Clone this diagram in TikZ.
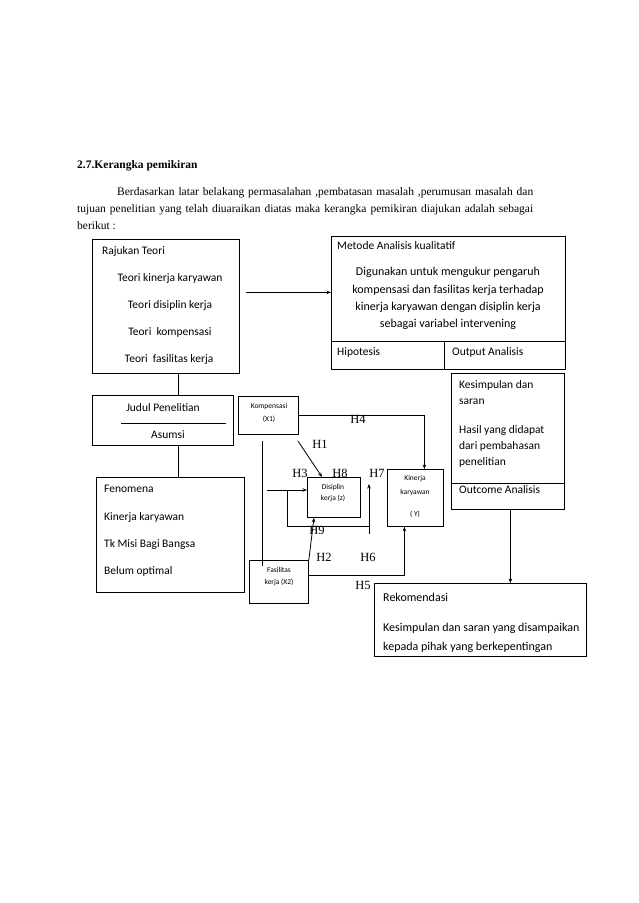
\documentclass[tikz,border=0pt]{standalone}
\usepackage{fontspec}
\setmainfont{Liberation Serif}
\newfontfamily\calfont{Carlito}
\usetikzlibrary{arrows.meta}
\begin{document}
\begin{tikzpicture}[x=1pt,y=-1pt,
  box/.style={draw, line width=0.8pt, anchor=north west, inner sep=0pt},
  ln/.style={line width=0.8pt},
  arr/.style={line width=0.8pt, -{Stealth[length=4.5pt,width=3.5pt]}},
  bt/.style={font=\calfont\fontsize{11.5}{13}\selectfont, inner sep=0pt},
  btl/.style={bt, anchor=west},
  bw/.style={font=\calfont\fontsize{12}{13}\selectfont, inner sep=0pt},
  bwl/.style={bw, anchor=west},
  st/.style={font=\calfont\fontsize{7.5}{9}\selectfont, inner sep=0pt},
  hl/.style={font=\fontsize{12.5}{14}\selectfont, inner sep=0pt},
  pt/.style={font=\fontsize{11.5}{13}\selectfont, inner sep=0pt, anchor=west}]
\fill[white] (0,0) rectangle (638,903);
\useasboundingbox (0,0) rectangle (638,903);

% heading and paragraph
\node[pt] (head) at (77,166) {\bfseries 2.7.Kerangka pemikiran};
\node[pt] (p1) at (117,193) {\makebox[416pt][s]{Berdasarkan latar belakang permasalahan ,pembatasan masalah ,perumusan masalah dan}};
\node[pt] (p2) at (77,210) {\makebox[456pt][s]{tujuan penelitian yang telah diuaraikan diatas maka kerangka pemikiran diajukan adalah sebagai}};
\node[pt] (p3) at (77,226) {berikut :};

% boxes
\node[box, minimum width=147pt, minimum height=134pt] (raj) at (92,239) {};
\node[box, minimum width=234pt, minimum height=133pt] (met) at (331,236) {};
\node[box, minimum width=141pt, minimum height=50pt] (jud) at (92,395) {};
\node[box, minimum width=148pt, minimum height=115pt] (fen) at (96,477) {};
\node[box, minimum width=60pt, minimum height=38pt] (komp) at (238,396) {};
\node[box, minimum width=53pt, minimum height=40pt] (dis) at (307,477) {};
\node[box, minimum width=56pt, minimum height=57pt] (kin) at (387,469) {};
\node[box, minimum width=59pt, minimum height=43pt] (fas) at (249,560) {};
\node[box, minimum width=113pt, minimum height=136pt] (kes) at (451,373) {};
\node[box, minimum width=212pt, minimum height=73pt] (rek) at (374,583) {};

% dividers
\coordinate (mdiv) at (444,341);
\draw[ln] (met.west |- mdiv) -- (met.east |- mdiv);
\draw[ln] (mdiv) -- (mdiv |- met.south);
\coordinate (kdiv) at (451,483);
\draw[ln] (kes.west |- kdiv) -- (kes.east |- kdiv);
\draw[ln] (121,423) -- (226,423);

% texts: Rajukan Teori
\node[btl] (t1) at (102,251) {Rajukan Teori};
\node[bt] (t2) at (170,278) {Teori kinerja karyawan};
\node[bt] (t3) at (170,305) {Teori disiplin kerja};
\node[bt] (t4) at (170,332) {Teori\ \ kompensasi};
\node[bt] (t5) at (169,359) {Teori\ \ fasilitas kerja};

% Metode
\node[btl] (m1) at (337,246) {Metode Analisis kualitatif};
\node[bw] (m2) at (448,272) {Digunakan untuk mengukur pengaruh};
\node[bw] (m3) at (448,290) {kompensasi dan fasilitas kerja terhadap};
\node[bw] (m4) at (448,307) {kinerja karyawan dengan disiplin kerja};
\node[bw] (m5) at (448,324) {sebagai variabel intervening};
\node[btl] (m6) at (337,352) {Hipotesis};
\node[btl] (m7) at (452,352) {Output Analisis};

% Judul
\node[bt] (j1) at (163,408) {Judul Penelitian};
\node[bt] (j2) at (168,435) {Asumsi};

% Fenomena
\node[btl] (f1) at (104,489) {Fenomena};
\node[btl] (f2) at (104,517) {Kinerja karyawan};
\node[btl] (f3) at (104,544) {Tk Misi Bagi Bangsa};
\node[btl] (f4) at (104,571) {Belum optimal};

% small boxes
\node[st] (k1) at (269,407) {Kompensasi};
\node[st] (k2) at (269,419) {(X1)};
\node[st] (d1) at (333,487) {Disiplin};
\node[st] (d2) at (333,498) {kerja (z)};
\node[st] (y1) at (415,479) {Kinerja};
\node[st] (y2) at (415,492) {karyawan};
\node[st] (y3) at (415,514) {( Y)};
\node[st] (x1) at (279,570) {Fasilitas};
\node[st] (x2) at (279,582) {kerja (X2)};

% Kesimpulan
\node[btl] (s1) at (459,385) {Kesimpulan dan};
\node[btl] (s2) at (459,402) {saran};
\node[btl] (s3) at (459,430) {Hasil yang didapat};
\node[btl] (s4) at (459,446) {dari pembahasan};
\node[btl] (s5) at (459,462) {penelitian};
\node[btl] (s6) at (459,490) {Outcome Analisis};

% Rekomendasi
\node[bwl] (r1) at (383,597) {Rekomendasi};
\node[bwl] (r2) at (383,628) {Kesimpulan dan saran yang disampaikan};
\node[bwl] (r3) at (383,647) {kepada pihak yang berkepentingan};

% connectors
\coordinate (vx) at (178,0);
\draw[arr] ([xshift=6pt,yshift=14pt]raj.east) -- ([yshift=10.5pt]met.west);
\draw[ln] (raj.south -| vx) -- (jud.north -| vx);
\draw[ln] (jud.south -| vx) -- (fen.north -| vx);
\draw[arr] ([xshift=2.5pt]kes.south) -- ([xshift=2.5pt]kes.south |- rek.north);

\draw[ln] ([xshift=-6pt,yshift=-6pt]komp.south) -- ([xshift=-6pt,yshift=-6pt]komp.south |- fas.north);
\draw[arr] ([xshift=-1pt,yshift=-6pt]komp.south east) -- ([xshift=15pt]dis.north west);
\draw[arr] (komp.east) -| ([xshift=9pt]kin.north);
\coordinate (h3s) at (267,490);
\draw[arr] (h3s) -- (h3s -| dis.west);
\coordinate (h9a) at (287,490);
\coordinate (h9b) at (369,526);
\draw[ln] (h9a) |- (h9b);
\coordinate (h7s) at (369,534);
\coordinate (h7e) at (369,484);
\draw[arr] (h7s) -- (h7e);
\draw[arr] (fas.north east) -- ([xshift=7pt]dis.south west);
\draw[arr] ([yshift=6.5pt]fas.east) -| ([xshift=-11pt]kin.south);

% H labels
\node[hl] (H4) at (358,419) {H4};
\node[hl] (H1) at (320,444) {H1};
\node[hl] (H3) at (300,473) {H3};
\node[hl] (H8) at (340,473) {H8};
\node[hl] (H7) at (377,473) {H7};
\node[hl] (H9) at (317,530) {H9};
\node[hl] (H2) at (324,557) {H2};
\node[hl] (H6) at (368,557) {H6};
\node[hl] (H5) at (363,585) {H5};
\end{tikzpicture}
\end{document}
